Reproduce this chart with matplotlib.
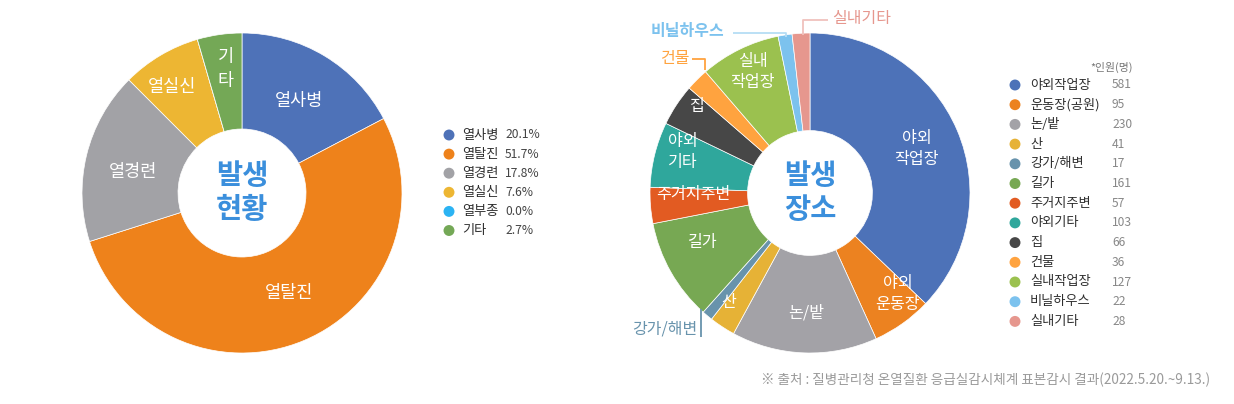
import matplotlib
matplotlib.use('Agg')
import matplotlib.pyplot as plt

plt.rcParams['font.family'] = ['Noto Sans CJK KR', 'DejaVu Sans']

# ---------------- data ----------------
# left: 발생 현황 (heat illness types)
type_names = ['열사병', '열탈진', '열경련', '열실신', '열부종', '기타']
type_pct_text = ['20.1%', '51.7%', '17.8%', '7.6%', '0.0%', '2.7%']
type_slice = [17.3, 52.8, 17.4, 8.0, 0.0, 4.5]   # wedge sizes as drawn in the picture
type_wedge_text = ['열사병', '열탈진', '열경련', '열실신', '', '기\n타']

# right: 발생 장소 (places)
place_names = ['야외작업장', '운동장(공원)', '논/밭', '산', '강가/해변', '길가', '주거지주변',
               '야외기타', '집', '건물', '실내작업장', '비닐하우스', '실내기타']
place_counts = [581, 95, 230, 41, 17, 161, 57, 103, 66, 36, 127, 22, 28]
place_wedge_text = ['야외\n작업장', '야외\n운동장', '논/밭', '산', '', '길가', '주거지주변',
                    '야외\n기타', '집', '', '실내\n작업장', '', '']

source_text = '※ 출처 : 질병관리청 온열질환 응급실감시체계 표본감시 결과(2022.5.20.~9.13.)'

# ---------------- style ----------------
type_colors = ['#4E72B8', '#EE821B', '#A2A2A6', '#EDB633', '#2BB3F3', '#74A856']
place_colors = ['#4D72B8', '#EC8220', '#A3A2A7', '#E6B236', '#6893AC', '#77A853', '#E25B22',
                '#2FA79C', '#474747', '#FFA33F', '#9BC14F', '#7CC2EE', '#E6978E']
center_blue = '#3B8FDC'

W, H = 1234, 404
fig = plt.figure(figsize=(W / 100, H / 100), dpi=100)
fig.patch.set_facecolor('white')

R = 160  # pie radius in px


def pie_axes(cx, cy):
    ax = fig.add_axes([(cx - R) / W, (H - cy - R) / H, 2 * R / W, 2 * R / H])
    ax.set_xlim(-1, 1)
    ax.set_ylim(-1, 1)
    ax.axis('off')
    return ax


# left pie
L_C = (242, 193)
axl = pie_axes(*L_C)
axl.pie(type_slice, colors=type_colors, startangle=90, counterclock=False, radius=1,
        wedgeprops=dict(width=0.6, edgecolor='white', linewidth=0.5))
axl.set_xlim(-1, 1); axl.set_ylim(-1, 1)

# right pie
R_C = (810, 193)
axr = pie_axes(*R_C)
axr.pie(place_counts, colors=place_colors, startangle=90, counterclock=False, radius=1,
        wedgeprops=dict(width=0.61, edgecolor='white', linewidth=0.5))
axr.set_xlim(-1, 1); axr.set_ylim(-1, 1)

# overlay in pixel coordinates
ov = fig.add_axes([0, 0, 1, 1])
ov.set_xlim(0, W)
ov.set_ylim(H, 0)
ov.axis('off')

# wedge labels (left)
left_label_pos = [(299, 101), (289, 293), (133, 172), (172, 87), None, (226, 69)]
for txt, pos in zip(type_wedge_text, left_label_pos):
    if pos is None or not txt:
        continue
    ov.text(pos[0], pos[1], txt, color='white', fontsize=12.6, ha='center', va='center',
            linespacing=1.4)
ov.text(L_C[0], L_C[1], '발생\n현황', color=center_blue, fontsize=20.5, fontweight='bold',
        ha='center', va='center', linespacing=1.25)

# wedge labels (right)
right_label_pos = [(917, 149), (898, 294), (806, 313), (729, 302), None, (703, 243),
                   (693, 194), (683, 152), (697, 107), None, (753, 72), None, None]
for txt, pos in zip(place_wedge_text, right_label_pos):
    if pos is None or not txt:
        continue
    ov.text(pos[0], pos[1], txt, color='white', fontsize=11.6, ha='center', va='center',
            linespacing=1.35)
ov.text(R_C[0], R_C[1], '발생\n장소', color=center_blue, fontsize=20.5, fontweight='bold',
        ha='center', va='center', linespacing=1.25)

# outside callouts on right pie
callouts = [
    # (name index, text pos, weight, line points, line colour)
    (11, (687, 31), 'bold', [(733, 33), (786, 33), (786, 37)], '#B5DDF5'),
    (12, (862, 18), 'medium', [(828, 20), (803, 20), (803, 35)], '#F0C2BD'),
    (9, (675, 58), 'normal', [(692, 59), (705, 59), (705, 70)], '#FFA33F'),
    (4, (665, 329), 'normal', [(701, 309), (701, 337)], '#6893AC'),
]
for idx, tpos, wt, pts, lc in callouts:
    col = place_colors[idx]
    ov.text(tpos[0], tpos[1], place_names[idx], color=col, fontsize=11.5,
            fontweight=wt, ha='center', va='center')
    xs, ys = zip(*pts)
    ov.plot(xs, ys, color=lc, lw=1.3, solid_capstyle='butt')

# left legend
ly0, ldy = 135, 19.1
for i, (nm, pct) in enumerate(zip(type_names, type_pct_text)):
    y = ly0 + i * ldy
    ov.scatter([449], [y], s=62, color=type_colors[i], edgecolors='none')
    ov.text(462, y, nm, fontsize=9.5, color='#2E2E2E', fontweight='medium',
            ha='left', va='center')
    ov.text(505, y, pct, fontsize=8.7, color='#444444', ha='left', va='center')

# right legend
ov.text(1133, 67, '*인원(명)', fontsize=7.8, color='#777777', ha='right', va='center')
ry0, rdy = 85, 19.7
for i, (nm, cnt) in enumerate(zip(place_names, place_counts)):
    y = ry0 + i * rdy
    ov.scatter([1015], [y], s=62, color=place_colors[i], edgecolors='none')
    ov.text(1030, y, nm, fontsize=9.5, color='#2E2E2E', fontweight='medium',
            ha='left', va='center')
    ov.text(1112, y, str(cnt), fontsize=8.7, color='#888888', ha='left', va='center')

# source
ov.text(1210, 380, source_text, fontsize=9.8, color='#9A9A9A', ha='right', va='center')

fig.savefig('out.png', dpi=100, facecolor='white')
